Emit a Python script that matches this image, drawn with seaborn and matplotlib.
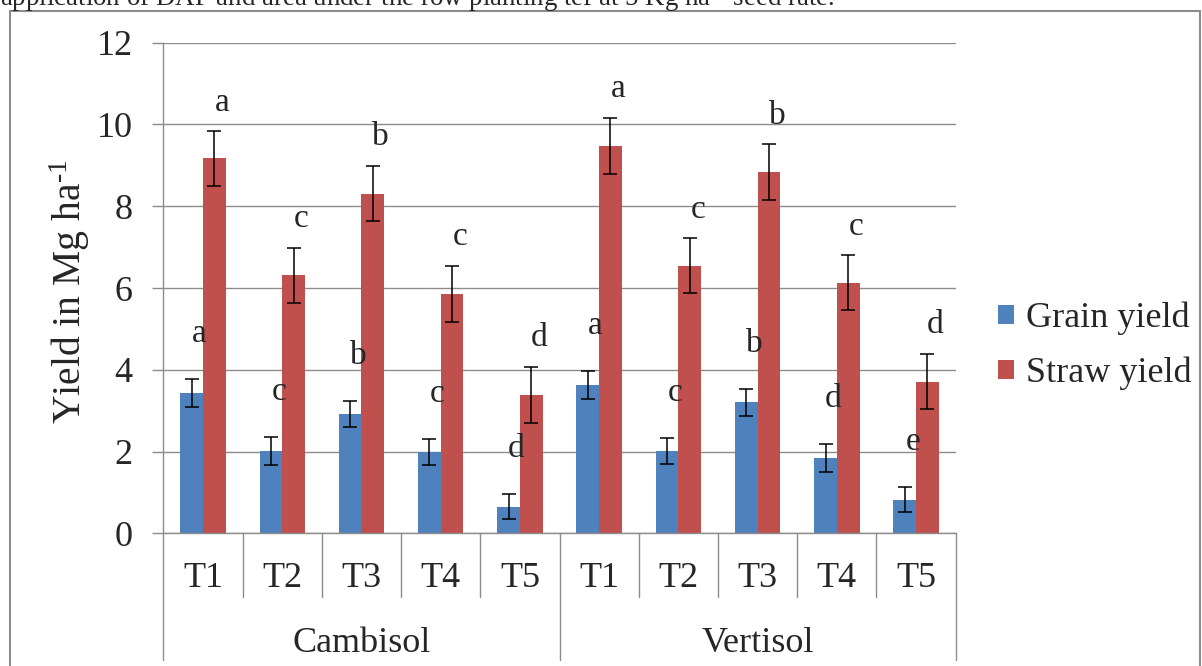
import numpy as np
import pandas as pd
import matplotlib.pyplot as plt
import matplotlib.patches as mpatches
import seaborn as sns

# values (Mg ha-1)
soils = ["Cambisol", "Vertisol"]
treatments = ["T1", "T2", "T3", "T4", "T5"]
components = ["Grain yield", "Straw yield"]

grain_yield = [3.44, 2.02, 2.92, 1.98, 0.65, 3.63, 2.02, 3.20, 1.84, 0.82]
grain_err = [0.34, 0.34, 0.31, 0.32, 0.31, 0.34, 0.32, 0.34, 0.34, 0.31]
straw_yield = [9.17, 6.31, 8.31, 5.86, 3.38, 9.47, 6.55, 8.84, 6.13, 3.71]
straw_err = [0.67, 0.67, 0.68, 0.69, 0.69, 0.69, 0.67, 0.68, 0.67, 0.68]
grain_letters = ["a", "c", "b", "c", "d", "a", "c", "b", "d", "e"]
straw_letters = ["a", "c", "b", "c", "d", "a", "c", "b", "c", "d"]

caption = "application of DAP and area under the row planting tef at 5 Kg ha$^{\\text{-1}}$ seed rate."

blue = "#4F81BD"
red = "#C0504D"
grid_col = "#8C8C8C"

keys = [f"{s} {t}" for s in soils for t in treatments]
df = pd.DataFrame({
    "key": keys * 2,
    "component": [components[0]] * 10 + [components[1]] * 10,
    "value": grain_yield + straw_yield,
    "err": grain_err + straw_err,
    "letter": grain_letters + straw_letters,
})

sns.set_style("white")
plt.rcParams["font.family"] = ["Liberation Serif", "DejaVu Serif"]
plt.rcParams["mathtext.fontset"] = "custom"
plt.rcParams["mathtext.rm"] = "Liberation Serif"
plt.rcParams["mathtext.it"] = "Liberation Serif:italic"

fig = plt.figure(figsize=(12.02, 6.66), dpi=100)
ax = fig.add_axes([0.1359, 0.1992, 0.6592, 0.7367])

sns.barplot(data=df, x="key", y="value", hue="component", order=keys,
            hue_order=components, palette=[blue, red], width=0.573,
            saturation=1, errorbar=None, linewidth=0, ax=ax)

# error bars and significance letters on top of each bar
offsets = {components[0]: 0.9, components[1]: 0.5}
for cont, comp in zip(ax.containers, components):
    sub = df[df["component"] == comp].set_index("key").loc[keys]
    xs = np.array([b.get_x() + b.get_width() / 2 for b in cont])
    hs = np.array([b.get_height() for b in cont])
    ax.errorbar(xs, hs, yerr=sub["err"].values, fmt="none", ecolor="black",
                elinewidth=1.1, capsize=4.7, capthick=1.1, zorder=3)
    for x, h, e, lab in zip(xs, hs, sub["err"].values, sub["letter"].values):
        ax.text(x + 0.1, h + e + offsets[comp], lab, ha="center", va="baseline",
                fontsize=24)

ax.set_ylim(0, 12)
ax.set_xlim(-0.5, 9.5)
ax.set_yticks(range(0, 13, 2))
ax.yaxis.grid(True, color=grid_col, linewidth=1)
ax.set_axisbelow(True)
for side in ["top", "right"]:
    ax.spines[side].set_visible(False)
for side in ["left", "bottom"]:
    ax.spines[side].set_color(grid_col)
    ax.spines[side].set_linewidth(1)

ax.tick_params(axis="y", length=7.6, width=1, color=grid_col, pad=14.4,
               labelsize=26, left=True)
ax.set_xticks(range(len(keys)))
ax.set_xticklabels(treatments * 2)
ax.tick_params(axis="x", length=0, pad=20.5, labelsize=26)
ax.set_xlabel("")
ax.set_ylabel("Yield in Mg ha$^{\\text{-1}}$", fontsize=28.5)
ax.yaxis.set_label_coords(-0.0895, 0.493)

# two-level category axis: separators and soil names
tr = ax.get_xaxis_transform()
for i in range(len(keys) + 1):
    edge = i - 0.5
    depth = -0.2583 if i % len(treatments) == 0 else -0.1292
    ax.plot([edge, edge], [0, depth], color=grid_col, linewidth=1,
            transform=tr, clip_on=False)
for j, s in enumerate(soils):
    mid = j * len(treatments) + (len(treatments) - 1) / 2
    ax.text(mid, -0.2413, s, transform=tr, ha="center", va="baseline",
            fontsize=26)

ax.legend(loc="center left", bbox_to_anchor=(998 / 1202, 1 - 346 / 666),
          bbox_transform=fig.transFigure, frameon=False, fontsize=26,
          handlelength=0.44, handleheight=0.44, handletextpad=0.33,
          labelspacing=0.6, borderpad=0, borderaxespad=0)

# page frame and clipped caption line from the source document
fig.patches.append(mpatches.Rectangle((10 / 1202, -0.05), 1190 / 1202, 1.05 - 11 / 666,
                                      transform=fig.transFigure, fill=False,
                                      edgecolor=grid_col, linewidth=1.5))
fig.text(0.0, 1 - 6 / 666, caption, ha="left", va="baseline", fontsize=19.4)

fig.savefig("out.png", dpi=100)
